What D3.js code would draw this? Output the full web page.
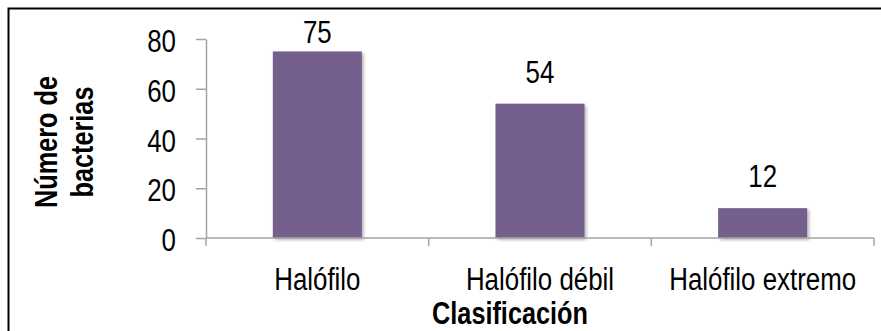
<!DOCTYPE html>
<html>
<head>
<meta charset="utf-8">
<script src="https://cdn.jsdelivr.net/npm/d3@7"></script>
<style>
  html, body { margin: 0; padding: 0; background: #fff; }
  svg { display: block; }
  text { font-family: "Liberation Sans", Arial, sans-serif; fill: #000; }
</style>
</head>
<body>
<svg id="chart" width="881" height="331"></svg>
<script>
// Bacterial isolates grouped by salt tolerance
const categories = ["Halófilo", "Halófilo débil", "Halófilo extremo"];
const counts = [75, 54, 12];
const yTicks = [0, 20, 40, 60, 80];
const yTitleLines = ["Número de", "bacterias"];
const xTitle = "Clasificación";

const W = 881, H = 331;
const plot = { left: 206, right: 874, top: 39, bottom: 238 };
const fontSize = 31;
const narrow = 0.835;     // horizontal squeeze for a condensed look
const narrowBold = 0.815;
const axisColor = "#a3a3a3";
const barColor = "#755f8d";

const svg = d3.select("#chart");

// Place a text node at (px, py), squeezed horizontally
function squeeze(sel, px, py, sx) {
  sel.attr("x", 0).attr("y", 0)
     .attr("transform", (d, i) => {
       const X = typeof px === "function" ? px(d, i) : px;
       const Y = typeof py === "function" ? py(d, i) : py;
       return `translate(${X},${Y}) scale(${sx},1)`;
     });
}

// Drop shadow under the bars
const defs = svg.append("defs");
const shadow = defs.append("filter").attr("id", "barShadow")
  .attr("x", "-10%").attr("y", "-10%").attr("width", "130%").attr("height", "130%");
shadow.append("feDropShadow")
  .attr("dx", 2).attr("dy", 2).attr("stdDeviation", 1.4)
  .attr("flood-color", "#000").attr("flood-opacity", 0.28);

// Outer frame (runs off the right and bottom edges)
svg.append("rect")
  .attr("x", 8.5).attr("y", 8.5)
  .attr("width", W + 20).attr("height", H + 20)
  .attr("fill", "none").attr("stroke", "#000").attr("stroke-width", 2);

const x = d3.scaleBand()
  .domain(categories)
  .range([plot.left, plot.right])
  .paddingInner(0.6)
  .paddingOuter(0.3);

const y = d3.scaleLinear()
  .domain([0, 80])
  .range([plot.bottom, plot.top]);

// Bars
svg.append("g")
  .selectAll("rect")
  .data(categories)
  .join("rect")
  .attr("x", d => x(d))
  .attr("y", (d, i) => y(counts[i]))
  .attr("width", x.bandwidth())
  .attr("height", (d, i) => y(0) - y(counts[i]))
  .attr("fill", barColor)
  .attr("filter", "url(#barShadow)");

// Y axis
const yAxis = svg.append("g")
  .attr("transform", `translate(${plot.left},0)`)
  .call(d3.axisLeft(y).tickValues(yTicks).tickSize(10).tickPadding(20).tickSizeOuter(0));
yAxis.attr("font-family", null).attr("font-size", null);
yAxis.select(".domain").attr("stroke", axisColor).attr("stroke-width", 1.5);
yAxis.selectAll(".tick line").attr("stroke", axisColor).attr("stroke-width", 1.5);
yAxis.selectAll(".tick text")
  .attr("font-size", fontSize)
  .attr("dy", null)
  .call(squeeze, -30, 12.5, narrow);

// X axis: ticks at category boundaries
const bounds = d3.range(categories.length + 1).map(i => plot.left + i * x.step());
const xAxisG = svg.append("g");
xAxisG.append("line")
  .attr("x1", plot.left).attr("x2", plot.right)
  .attr("y1", plot.bottom).attr("y2", plot.bottom)
  .attr("stroke", axisColor).attr("stroke-width", 1.5);
xAxisG.selectAll("line.tick")
  .data(bounds)
  .join("line")
  .attr("class", "tick")
  .attr("x1", d => d).attr("x2", d => d)
  .attr("y1", plot.bottom).attr("y2", plot.bottom + 8)
  .attr("stroke", axisColor).attr("stroke-width", 1.5);
xAxisG.selectAll("text")
  .data(categories)
  .join("text")
  .attr("text-anchor", "middle")
  .attr("font-size", fontSize)
  .text(d => d)
  .call(squeeze, d => x(d) + x.bandwidth() / 2, 290, narrow);

// Value labels above bars (kept inside the plot area)
svg.append("g")
  .selectAll("text")
  .data(categories)
  .join("text")
  .attr("text-anchor", "middle")
  .attr("font-size", fontSize)
  .text((d, i) => counts[i])
  .call(squeeze, d => x(d) + x.bandwidth() / 2,
        (d, i) => Math.max(y(counts[i]) - 21, 43), narrow);

// Axis titles
svg.append("text")
  .attr("text-anchor", "middle")
  .attr("font-size", fontSize)
  .attr("font-weight", "bold")
  .text(xTitle)
  .call(squeeze, 510, 324, narrowBold);

const yTitle = svg.append("text")
  .attr("transform", `translate(57,142) rotate(-90) scale(${narrowBold},1)`)
  .attr("text-anchor", "middle")
  .attr("font-size", fontSize)
  .attr("font-weight", "bold");
yTitle.selectAll("tspan")
  .data(yTitleLines)
  .join("tspan")
  .attr("x", 0)
  .attr("dy", (d, i) => i === 0 ? 0 : 36)
  .text(d => d);
</script>
</body>
</html>
